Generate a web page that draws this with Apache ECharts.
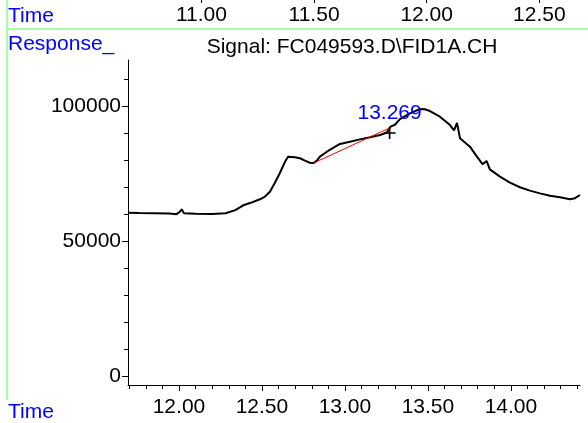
<!DOCTYPE html>
<html><head><meta charset="utf-8">
<script src="https://cdn.jsdelivr.net/npm/echarts@6/dist/echarts.min.js"></script>
<style>html,body{margin:0;padding:0;background:#fff}#c{width:588px;height:423px}</style>
</head><body><div id="c"></div>
<script>
const times = [11.693, 11.760, 11.850, 11.940, 11.985, 12.004, 12.016, 12.030, 12.100, 12.200, 12.280, 12.340, 12.392, 12.428, 12.488, 12.518, 12.548, 12.578, 12.608, 12.639, 12.657, 12.699, 12.729, 12.759, 12.789, 12.810, 12.831, 12.849, 12.898, 12.910, 12.970, 13.030, 13.090, 13.151, 13.211, 13.250, 13.275, 13.301, 13.331, 13.392, 13.452, 13.482, 13.512, 13.572, 13.633, 13.657, 13.675, 13.693, 13.753, 13.795, 13.807, 13.829, 13.853, 13.873, 13.934, 13.994, 14.054, 14.114, 14.175, 14.235, 14.295, 14.355, 14.386, 14.416];
const response = [60700, 60600, 60500, 60400, 60200, 61000, 62000, 60500, 60300, 60250, 60500, 61700, 63600, 64300, 65700, 66700, 68500, 71850, 75450, 79600, 81500, 81250, 80900, 80000, 79250, 79100, 80000, 81500, 83600, 84200, 86200, 87000, 87900, 88650, 89500, 90300, 92600, 93300, 95400, 97550, 99150, 99050, 98400, 96300, 93200, 91200, 94000, 88300, 85200, 81500, 82100, 78700, 79900, 76800, 74100, 71850, 70150, 68900, 67900, 67000, 66450, 65700, 66100, 67300];
const xTicks = [12.0, 12.5, 13.0, 13.5, 14.0];
const yTicks = [0, 50000, 100000];
const topTicks = [11.0, 11.5, 12.0, 12.5];
const peakTime = [13.269];
const peakResp = [90260];
const baseTimes = [12.810, 13.275];
const baseResp = [79100, 92300];

const FONT = '"Liberation Sans", Arial, Helvetica, sans-serif';
const FS = 21;
const BLUE = '#0000ff';
const GREEN = '#88ff88';
const chart = echarts.init(document.getElementById('c'));
const option = {
  animation: false,
  backgroundColor: '#fff',
  grid: [
    {left: 128, top: 60, right: 8, bottom: 38, outerBoundsMode: 'none'},
    {left: 7, right: 0, top: 0, height: 3, outerBoundsMode: 'none'}
  ],
  xAxis: [
    {type: 'value', gridIndex: 0, min: 11.693, max: 14.416, minInterval: 0.5, maxInterval: 0.5,
     splitLine: {show: false},
     axisLine: {onZero: false, lineStyle: {color: '#000', width: 1}},
     axisTick: {customValues: xTicks, length: 6, lineStyle: {color: '#000'}},
     minorTick: {show: true, splitNumber: 5, length: 4, lineStyle: {color: '#000'}},
     axisLabel: {customValues: xTicks, formatter: v => v.toFixed(2), color: '#000', fontSize: FS, fontFamily: FONT, margin: 12}},
    {type: 'value', gridIndex: 1, min: 10.137, max: 12.716, position: 'bottom',
     splitLine: {show: false}, axisLine: {show: false},
     axisTick: {customValues: topTicks, inside: true, length: 3, lineStyle: {color: '#000'}},
     axisLabel: {customValues: topTicks, formatter: v => v.toFixed(2), color: '#000', fontSize: FS, fontFamily: FONT, margin: 2}}
  ],
  yAxis: [
    {type: 'value', gridIndex: 0, min: -3100, max: 117300, minInterval: 50000, maxInterval: 50000,
     splitLine: {show: false},
     axisLine: {show: true, onZero: false, lineStyle: {color: '#000', width: 1}},
     axisTick: {show: true, customValues: yTicks, length: 6, lineStyle: {color: '#000'}},
     minorTick: {show: true, splitNumber: 5, length: 4, lineStyle: {color: '#000'}},
     axisLabel: {customValues: yTicks, formatter: v => String(v), color: '#000', fontSize: FS, fontFamily: FONT, margin: 7}},
    {type: 'value', gridIndex: 1, show: false}
  ],
  series: [
    {type: 'line', xAxisIndex: 0, yAxisIndex: 0, symbol: 'none', smooth: false,
     data: times.map((t, i) => [t, response[i]]),
     lineStyle: {color: '#000', width: 2}, z: 3},
    {type: 'line', xAxisIndex: 0, yAxisIndex: 0, symbol: 'none',
     data: baseTimes.map((t, i) => [t, baseResp[i]]),
     lineStyle: {color: '#ff0000', width: 1}, z: 4},
    {type: 'scatter', xAxisIndex: 0, yAxisIndex: 0,
     symbol: 'path://M0,4.3h10v1.4h-10z M4.3,0h1.4v10h-1.4z', symbolSize: 12,
     itemStyle: {color: '#000', opacity: 1},
     data: peakTime.map((t, i) => [t, peakResp[i]]),
     label: {show: true, position: 'top', distance: 3, formatter: p => p.value[0].toFixed(3),
             color: BLUE, opacity: 1, fontSize: FS, fontFamily: FONT}, z: 5}
  ],
  graphic: [
    {type: 'line', shape: {x1: 7, y1: 29, x2: 588, y2: 29}, style: {stroke: GREEN, lineWidth: 1.5}},
    {type: 'line', shape: {x1: 7, y1: 0, x2: 7, y2: 400}, style: {stroke: GREEN, lineWidth: 1.5}},
    {type: 'text', x: 8, y: 16, style: {text: 'Time', fill: BLUE, font: FS + 'px ' + FONT, textVerticalAlign: 'middle'}},
    {type: 'text', x: 8, y: 44, style: {text: 'Response_', fill: BLUE, font: FS + 'px ' + FONT, textVerticalAlign: 'middle'}},
    {type: 'text', x: 352, y: 47, style: {text: 'Signal: FC049593.D\\FID1A.CH', fill: '#000', font: FS + 'px ' + FONT, textAlign: 'center', textVerticalAlign: 'middle'}},
    {type: 'text', x: 8, y: 412, style: {text: 'Time', fill: BLUE, font: FS + 'px ' + FONT, textVerticalAlign: 'middle'}}
  ]
};
chart.setOption(option);
</script></body></html>
